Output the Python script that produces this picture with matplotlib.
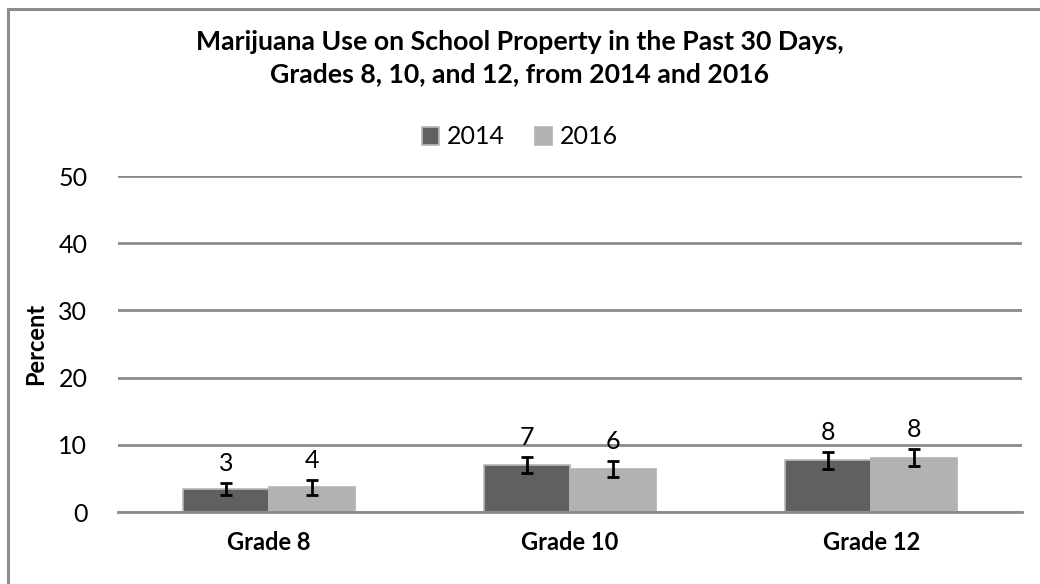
import numpy as np
import matplotlib
matplotlib.use("Agg")
import matplotlib.pyplot as plt
from matplotlib.patches import Rectangle

# datos
grados = ["Grade 8", "Grade 10", "Grade 12"]
anios = ["2014", "2016"]
valores_2014 = [3.4, 7.0, 7.7]
valores_2016 = [3.7, 6.4, 8.1]
error_2014 = [0.9, 1.25, 1.3]
error_2016 = [1.1, 1.2, 1.3]
etiquetas_2014 = ["3", "7", "8"]
etiquetas_2016 = ["4", "6", "8"]
ticks_y = [0, 10, 20, 30, 40, 50]

plt.rcParams['font.family'] = ['Lato', 'DejaVu Sans']

fig = plt.figure(figsize=(10.4, 5.84), dpi=100)
ax = fig.add_axes([118 / 1040, 1 - 512 / 584, (1022 - 118) / 1040, (512 - 176) / 584])

# borde del gráfico (solo visible arriba e izquierda)
fig.patches.append(Rectangle((8 / 1040, -0.1), 1.2, 1 - 9 / 584 + 0.1,
                             transform=fig.transFigure, fill=False,
                             edgecolor="#8c8c8c", linewidth=2.2))

x = np.arange(len(grados))
ancho = 0.285

b1 = ax.bar(x - ancho / 2, valores_2014, ancho, color="#606060",
            edgecolor="#b8b8b8", linewidth=1.2, label=anios[0], zorder=3)
b2 = ax.bar(x + ancho / 2, valores_2016, ancho, color="#b2b2b2",
            edgecolor="#b2b2b2", linewidth=1.2, label=anios[1], zorder=3)

ax.errorbar(x - ancho / 2, valores_2014, yerr=error_2014, fmt="none",
            ecolor="black", elinewidth=2, capsize=4.5, capthick=2, zorder=4)
ax.errorbar(x + ancho / 2, valores_2016, yerr=error_2016, fmt="none",
            ecolor="black", elinewidth=2, capsize=4.5, capthick=2, zorder=4)

for xs, vals, errs, labs in [(x - ancho / 2, valores_2014, error_2014, etiquetas_2014),
                             (x + ancho / 2, valores_2016, error_2016, etiquetas_2016)]:
    for xi, v, e, t in zip(xs, vals, errs, labs):
        ax.annotate(t, (xi, v + e), xytext=(0, 8.5), textcoords="offset points",
                    ha="center", va="baseline", fontsize=18)

ax.set_xlim(-0.5, 2.5)
ax.set_ylim(0, 50)
ax.set_yticks(ticks_y)
ax.set_xticks(x)
ax.set_xticklabels(grados, fontsize=17, fontweight="bold")
ax.tick_params(axis="y", labelsize=18, length=0, pad=22)
ax.tick_params(axis="x", length=0, pad=14)
ax.yaxis.grid(True, color="#8c8c8c", linewidth=2)
ax.set_axisbelow(True)
for lado in ["left", "right", "top"]:
    ax.spines[lado].set_visible(False)
ax.spines["bottom"].set_color("#8c8c8c")
ax.spines["bottom"].set_linewidth(2)
ax.spines["bottom"].set_zorder(5)

fig.text(36 / 1040, 1 - 344 / 584, "Percent", rotation=90, ha="center", va="center",
         fontsize=17, fontweight="bold")

fig.text(0.5, 1 - 58 / 584, "Marijuana Use on School Property in the Past 30 Days,\n"
         "Grades 8, 10, and 12, from 2014 and 2016",
         ha="center", va="center", fontsize=19.2, fontweight="bold", linespacing=1.4)

fig.legend(handles=[b1, b2], labels=anios, loc="center", bbox_to_anchor=(0.5, 1 - 137 / 584),
           ncol=2, frameon=False, fontsize=18, handlelength=0.7, handleheight=0.7,
           handletextpad=0.3, columnspacing=1.2)

fig.savefig("out.png", dpi=100)
